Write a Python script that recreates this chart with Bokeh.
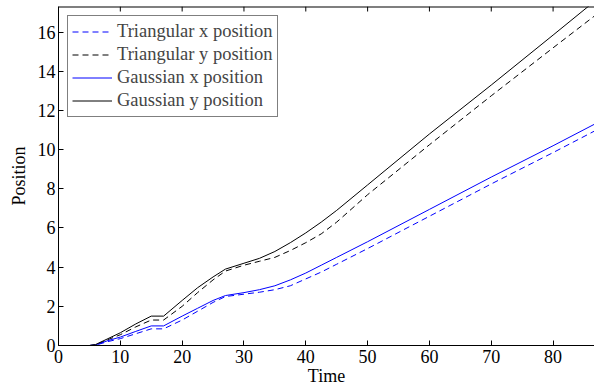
from bokeh.plotting import figure
from bokeh.models import Range1d, FixedTicker, Legend, LegendItem
from bokeh.embed import file_html
from bokeh.resources import INLINE

time = [0, 5, 6, 8, 10, 12.5, 15, 17, 20, 22.5, 25, 27, 30, 32.5, 35, 37.5, 40, 42.5, 45, 50, 60, 70, 80, 87]
tri_x = [0, 0, 0.02, 0.2, 0.35, 0.6, 0.85, 0.85, 1.3, 1.75, 2.2, 2.5, 2.62, 2.72, 2.85, 3.05, 3.4, 3.75, 4.15, 4.95, 6.6, 8.25, 9.85, 11.0]
tri_y = [0, 0, 0.03, 0.3, 0.55, 0.95, 1.3, 1.3, 2.0, 2.7, 3.35, 3.8, 4.1, 4.3, 4.5, 4.85, 5.25, 5.7, 6.3, 7.7, 10.25, 12.75, 15.2, 16.9]
gau_x = [0, 0, 0.03, 0.25, 0.43, 0.72, 1.0, 1.0, 1.5, 1.9, 2.3, 2.55, 2.7, 2.85, 3.05, 3.35, 3.7, 4.1, 4.5, 5.3, 6.95, 8.6, 10.2, 11.35]
gau_y = [0, 0, 0.05, 0.35, 0.65, 1.1, 1.5, 1.5, 2.3, 2.95, 3.5, 3.9, 4.2, 4.45, 4.8, 5.25, 5.75, 6.3, 6.9, 8.2, 10.8, 13.3, 15.85, 17.65]

labels = ["Triangular x position", "Triangular y position", "Gaussian x position", "Gaussian y position"]
x_ticks = [0, 10, 20, 30, 40, 50, 60, 70, 80]
y_ticks = [0, 2, 4, 6, 8, 10, 12, 14, 16]

FONT = "Liberation Serif"
FS = "18px"

X_END = 86.7
Y_END = 17.31
FRAME_H = 339

p = figure(width=594, height=389, output_backend="svg", toolbar_location=None,
           x_range=Range1d(0, X_END), y_range=Range1d(0, Y_END),
           min_border_left=58, min_border_right=0, min_border_top=6, min_border_bottom=44)
p.outline_line_color = None
p.grid.visible = False
p.background_fill_color = "white"
p.border_fill_color = "white"

r1 = p.line(time, tri_x, line_color="#0000ff", line_width=1, line_dash="6 4")
r2 = p.line(time, tri_y, line_color="black", line_width=1, line_dash="6 4")
r3 = p.line(time, gau_x, line_color="#0000ff", line_width=1)
r4 = p.line(time, gau_y, line_color="black", line_width=1)

# top box edge with inward ticks (MATLAB style box)
tick_len = Y_END * 5 / FRAME_H
p.segment(x0=[0], y0=[Y_END], x1=[X_END], y1=[Y_END], line_color="black", line_width=2)
p.segment(x0=x_ticks, y0=[Y_END] * len(x_ticks), x1=x_ticks,
          y1=[Y_END - tick_len] * len(x_ticks), line_color="black", line_width=1)

for ax in [p.xaxis[0], p.yaxis[0]]:
    ax.major_label_text_font = FONT
    ax.major_label_text_font_size = FS
    ax.axis_label_text_font = FONT
    ax.axis_label_text_font_size = FS
    ax.axis_label_text_font_style = "normal"
    ax.major_tick_in = 5
    ax.major_tick_out = 0
    ax.minor_tick_line_color = None
    ax.axis_line_color = "black"
    ax.major_tick_line_color = "black"
    ax.major_label_text_color = "black"
    ax.axis_label_text_color = "black"

p.xaxis[0].ticker = FixedTicker(ticks=x_ticks)
p.yaxis[0].ticker = FixedTicker(ticks=y_ticks)
p.xaxis[0].axis_label = "Time"
p.yaxis[0].axis_label = "Position"
p.xaxis[0].major_label_standoff = 4
p.xaxis[0].axis_label_standoff = 0
p.yaxis[0].major_label_standoff = 3
p.yaxis[0].axis_label_standoff = 6

legend = Legend(items=[LegendItem(label=labels[0], renderers=[r1]),
                       LegendItem(label=labels[1], renderers=[r2]),
                       LegendItem(label=labels[2], renderers=[r3]),
                       LegendItem(label=labels[3], renderers=[r4])],
                location="top_left")
legend.label_text_font = FONT
legend.label_text_font_size = "18.5px"
legend.glyph_width = 40
legend.glyph_height = 23
legend.label_height = 23
legend.spacing = 0
legend.padding = 4
legend.margin = 9
legend.label_standoff = 5
legend.border_line_color = "black"
legend.border_line_width = 1
legend.background_fill_alpha = 1
p.add_layout(legend, "center")

open("out.html", "w").write(file_html(p, INLINE))
